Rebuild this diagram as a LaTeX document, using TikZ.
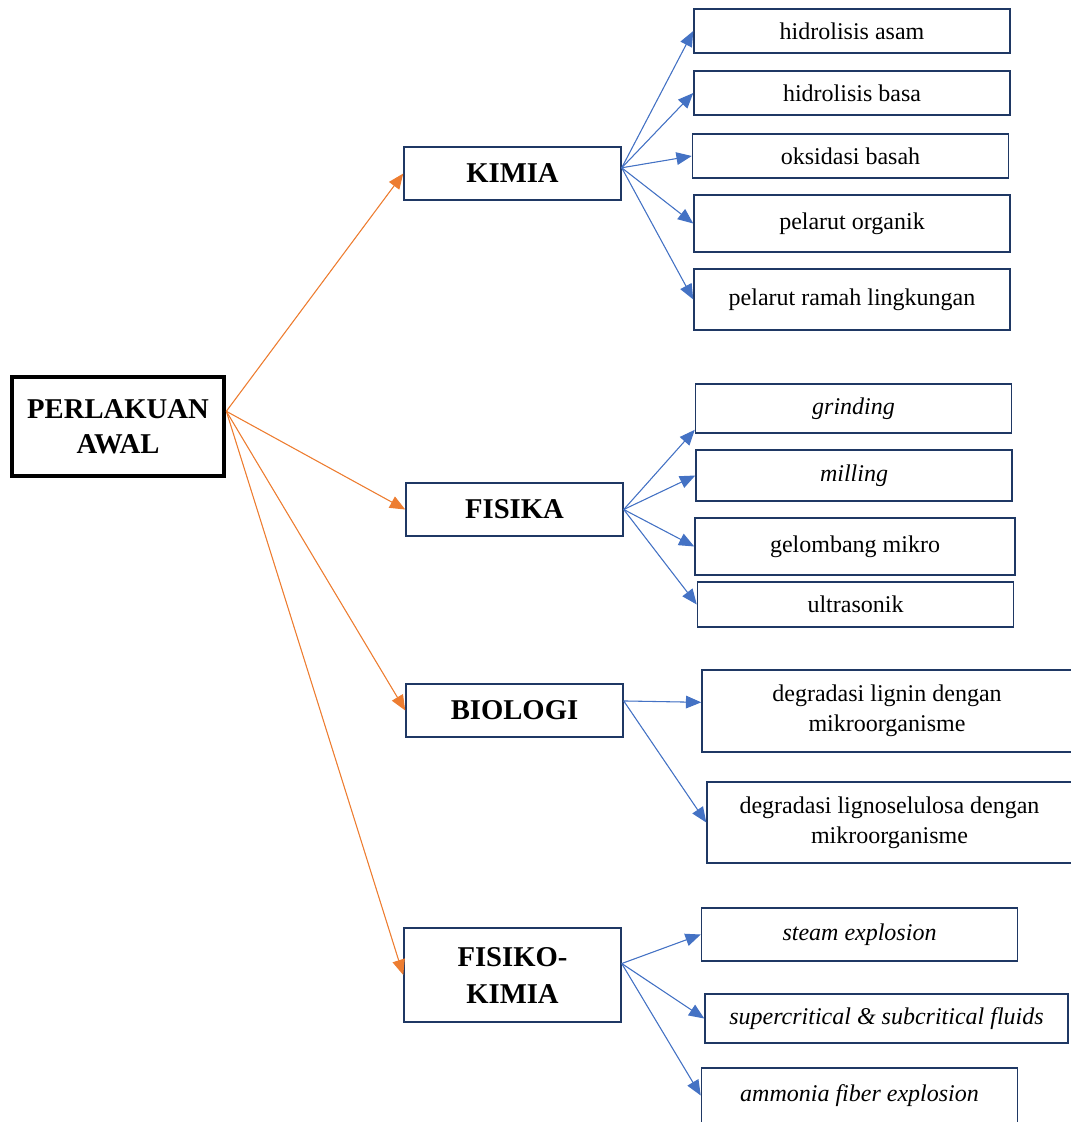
\documentclass[tikz,border=0pt]{standalone}
\usepackage{fontspec}
\setmainfont{Liberation Serif}
\usepackage{tikz}
\usetikzlibrary{positioning,arrows.meta,calc}
\definecolor{boxclr}{RGB}{31,56,100}
\definecolor{orgclr}{RGB}{237,125,49}
\definecolor{bluclr}{RGB}{68,114,196}
\tikzset{
  rootbox/.style={rectangle,draw=black,line width=3.5pt,align=center,
              inner sep=2pt,font=\fontsize{21.5}{26}\selectfont\bfseries},
  grp/.style={rectangle,draw=boxclr,line width=1.1pt,align=center,
              minimum width=162.75pt,inner sep=2pt,
              font=\fontsize{21.5}{27.75}\selectfont\bfseries},
  leaf/.style={rectangle,draw=boxclr,line width=1.1pt,align=center,
              minimum width=237pt,inner sep=2pt,
              font=\fontsize{18}{22.5}\selectfont},
  oedge/.style={-{Triangle[length=11.5pt,width=9.5pt]},draw=orgclr,fill=orgclr,line width=0.8pt},
  bedge/.style={-{Triangle[length=11.5pt,width=9.5pt]},draw=bluclr,fill=bluclr,line width=0.8pt},
}

\begin{document}
\begin{tikzpicture}[x=0.75pt,y=-0.75pt]
\useasboundingbox (0,0) rectangle (1071,1122);
% main box
\node[rootbox,minimum width=159pt,minimum height=74.25pt] (root) at (118,426.5) {PERLAKUAN\\AWAL};
% groups
\node[grp,minimum height=39.75pt] (kimia) at (512.5,173.5) {KIMIA};
\node[grp,minimum height=39.75pt] (fisika) at (514.5,509.5) {FISIKA};
\node[grp,minimum height=39.75pt] (biologi) at (514.5,710.5) {BIOLOGI};
\node[grp,minimum height=70.5pt] (fiskim) at (512.5,975) {FISIKO-\\KIMIA};
% kimia
\node[leaf,minimum height=33pt] (asam) at (852,31) {hidrolisis asam};
\node[leaf,minimum height=33pt] (basa) at (852,93) {hidrolisis basa};
\node[leaf,minimum height=33pt] (oksidasi) at (850.5,156) {oksidasi basah};
\node[leaf,minimum height=42.75pt] (organik) at (852,223.5) {pelarut organik};
\node[leaf,minimum height=45.75pt] (ramah) at (852,299.5) {pelarut ramah lingkungan};
% fisika
\node[leaf,minimum height=36.75pt] (grinding) at (853.5,408.5) {\textit{grinding}};
\node[leaf,minimum height=38.25pt] (milling) at (854,475.5) {\textit{milling}};
\node[leaf,minimum width=240pt,minimum height=42.75pt] (mikro) at (855,546.5) {gelombang mikro};
\node[leaf,minimum height=33.75pt] (ultra) at (855.5,604.5) {ultrasonik};
% biologi
\node[leaf,minimum width=277.5pt,minimum height=61.5pt] (lignin) at (887,711) {degradasi lignin dengan\\mikroorganisme};
\node[leaf,minimum width=273.75pt,minimum height=60.75pt] (lignosel) at (889.5,822.5) {degradasi lignoselulosa dengan\\mikroorganisme};
% fisiko-kimia
\node[leaf,minimum height=39.75pt] (steam) at (859.5,934.5) {\textit{steam explosion}};
\node[leaf,minimum width=272.25pt,minimum height=36.75pt] (superc) at (886.5,1018.5) {\textit{supercritical \& subcritical fluids}};
\node[leaf,minimum height=41.25pt] (ammonia) at (859.5,1095.5) {\textit{ammonia fiber explosion}};

% orange arrows
\foreach \g in {kimia,fisika,biologi,fiskim}
  \draw[oedge] (root.8) -- (\g.west);
% blue arrows
\foreach \l in {asam,basa,oksidasi,organik,ramah}
  \draw[bedge] (kimia.3) -- (\l.west);
\draw[bedge] (fisika.east) -- ([yshift=-16pt]grinding.west);
\foreach \l in {milling,mikro,ultra}
  \draw[bedge] (fisika.east) -- (\l.west);
\draw[bedge] (biologi.5) -- ([yshift=6.5pt]lignin.west);
\draw[bedge] (biologi.5) -- (lignosel.west);
\foreach \l in {steam,superc,ammonia}
  \draw[bedge] (fiskim.6) -- (\l.west);
\end{tikzpicture}
\end{document}
